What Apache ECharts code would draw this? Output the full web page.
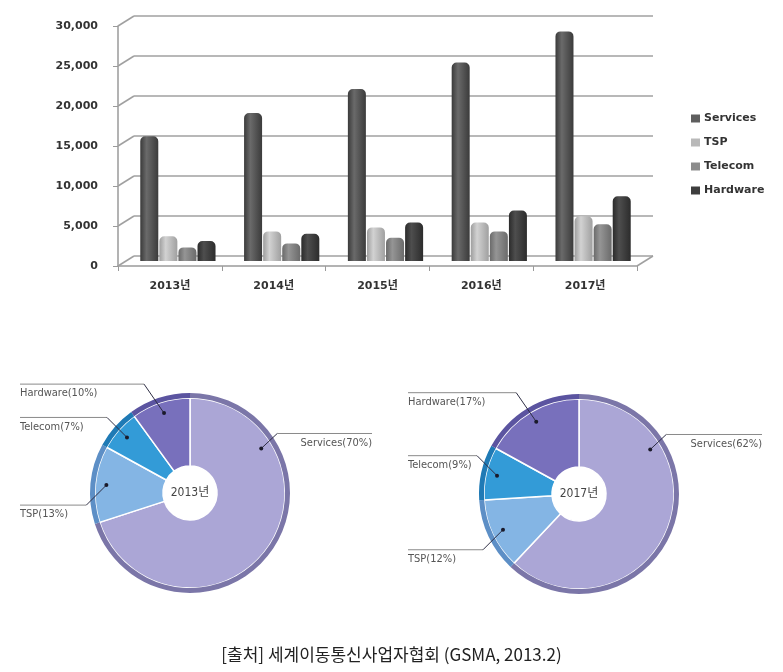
<!DOCTYPE html>
<html><head><meta charset="utf-8">
<script src="https://cdn.jsdelivr.net/npm/echarts@6/dist/echarts.min.js"></script>
<style>html,body{margin:0;padding:0;background:#fff}#c{width:783px;height:672px}</style>
</head><body><div id="c"></div><script>
// ---- data ----
const categories = ['2013년', '2014년', '2015년', '2016년', '2017년'];
const seriesNames = ['Services', 'TSP', 'Telecom', 'Hardware'];
const services = [15600, 18500, 21500, 24800, 28700];
const tsp = [3100, 3700, 4200, 4800, 5600];
const telecom = [1700, 2200, 2900, 3700, 4600];
const hardware = [2500, 3400, 4800, 6300, 8100];
const yMin = 0, yMax = 30000, yStep = 5000;
const yTicks = [0, 5000, 10000, 15000, 20000, 25000, 30000];
const pieNames = ['Services', 'TSP', 'Telecom', 'Hardware'];
const share2013 = [70, 13, 7, 10];
const share2017 = [62, 12, 9, 17];
const pieYears = ['2013년', '2017년'];
const sourceText = '[출처] 세계이동통신사업자협회 (GSMA, 2013.2)';

// ---- layout / style ----
const BAR_STOPS = [
  ['#3a3a3a', '#6a6a6a', '#3b3b3b'],
  ['#9e9e9e', '#d2d2d2', '#a0a0a0'],
  ['#6a6a6a', '#959595', '#6b6b6b'],
  ['#2b2b2b', '#4e4e4e', '#2c2c2c']
];
const LEGEND_COLORS = ['#5e5e5e', '#b9b9b9', '#8c8c8c', '#3e3e3e'];
const PIE_COLORS = ['#aba6d6', '#84b5e4', '#339bd7', '#7870bc'];
const RIM_COLORS = ['#7b76a8', '#5d8fc6', '#1f7ab5', '#5b54a0'];
const PIE_CENTERS = [[190, 493], [579, 494]];
const PIE_R = 100, RIM_IN = 95, HOLE = 27;
const LABEL_EDGES = [[20, 372], [408, 762]];
const DOT_R = 84;
const LABEL_BEND = [[16, -15], [-20, 20], [-20, -20], [-20, -29]];
const SERVICES_LABEL_ANGLE = 58;
const GRID_W = 519, GRID_H = 240;
const FRONT = [118, 26], BACK = [134, 16], MID = [126, 21];
const PIE_FONT = "'Liberation Sans Narrow', 'DejaVu Sans Condensed', 'Noto Sans CJK KR', sans-serif";
const AXIS_FONT = "'DejaVu Sans', 'Noto Sans CJK KR', sans-serif";
const GRID_COLOR = '#a0a0a0';

function grad(stops) {
  return { type: 'linear', x: 0, y: 0, x2: 1, y2: 0,
    colorStops: [{ offset: 0, color: stops[0] }, { offset: 0.35, color: stops[1] }, { offset: 1, color: stops[2] }] };
}

function labelGeom(pieIdx, values, i) {
  const total = values.reduce((a, b) => a + b, 0);
  let cum = 0;
  for (let k = 0; k < i; k++) cum += values[k];
  let ang = 360 * (cum + values[i] / 2) / total;
  if (i === 0) ang = SERVICES_LABEL_ANGLE;
  const rad = ang * Math.PI / 180;
  const c = PIE_CENTERS[pieIdx];
  const dot = [c[0] + DOT_R * Math.sin(rad), c[1] - DOT_R * Math.cos(rad)];
  const bend = LABEL_BEND[i];
  const elbow = [dot[0] + bend[0], dot[1] + bend[1]];
  const side = bend[0] > 0 ? 1 : -1;
  const end = [side > 0 ? LABEL_EDGES[pieIdx][1] : LABEL_EDGES[pieIdx][0], elbow[1]];
  return { dot, elbow, end, side };
}

const chart = echarts.init(document.getElementById('c'), null, { renderer: 'canvas' });

const barData = [services, tsp, telecom, hardware];
const barSeries = seriesNames.map((n, i) => ({
  name: n, type: 'bar', xAxisIndex: 2, yAxisIndex: 2,
  data: barData[i], barWidth: 18, barGap: '6%',
  itemStyle: { color: grad(BAR_STOPS[i]), borderRadius: [5, 5, 0, 0] },
  z: 3
}));

const pieData = [share2013, share2017];
const pieSeries = [];
pieData.forEach((vals, p) => {
  pieSeries.push({
    type: 'pie', center: PIE_CENTERS[p], radius: [HOLE, RIM_IN],
    startAngle: 90, clockwise: true, avoidLabelOverlap: false, minShowLabelAngle: 0,
    silent: true,
    data: pieNames.map((n, i) => ({ name: n, value: vals[i], itemStyle: { color: PIE_COLORS[i] } })),
    itemStyle: { borderColor: '#ffffff', borderWidth: 1.5 },
    label: { show: true, position: 'outside', formatter: '{b}({c}%)',
      fontFamily: PIE_FONT, fontSize: 11, color: '#555' },
    labelLine: { show: false },
    labelLayout: (params) => {
      const g = labelGeom(p, vals, params.dataIndex);
      return { x: g.end[0], y: g.elbow[1] + 4, align: g.side > 0 ? 'right' : 'left', verticalAlign: 'top' };
    },
    z: 2
  });
  pieSeries.push({
    type: 'pie', center: PIE_CENTERS[p], radius: [RIM_IN, PIE_R],
    startAngle: 90, clockwise: true, avoidLabelOverlap: false, minShowLabelAngle: 0,
    silent: true,
    data: pieNames.map((n, i) => ({ name: n, value: vals[i], itemStyle: { color: RIM_COLORS[i] } })),
    label: { show: false },
    labelLine: { show: false },
    z: 2
  });
});

const gridBox = (pos) => ({ left: pos[0], top: pos[1], width: GRID_W, height: GRID_H, containLabel: false });

const option = {
  animation: false,
  backgroundColor: '#ffffff',
  title: [{
    text: sourceText, left: 'center', top: 641,
    textStyle: { fontFamily: "'Noto Sans CJK KR', sans-serif", fontSize: 17, fontWeight: 'normal', color: '#222' }
  }],
  legend: {
    orient: 'vertical', left: 691, top: 113, padding: 0,
    itemWidth: 9, itemHeight: 8, itemGap: 13, icon: 'rect',
    textStyle: { fontFamily: AXIS_FONT, fontWeight: 'bold', fontSize: 11, color: '#333', padding: [0, 0, 0, -1] },
    data: seriesNames.map((n, i) => ({ name: n, itemStyle: { color: LEGEND_COLORS[i] } }))
  },
  grid: [gridBox(FRONT), gridBox(BACK), gridBox(MID)],
  xAxis: [
    { gridIndex: 0, type: 'category', data: categories,
      axisLine: { show: true, lineStyle: { color: '#9a9a9a', width: 1.5 } },
      axisTick: { show: true, length: 5, lineStyle: { color: '#9a9a9a' } },
      axisLabel: { margin: 15, fontFamily: AXIS_FONT, fontWeight: 'bold', fontSize: 11, color: '#333' },
      splitLine: { show: false } },
    { gridIndex: 1, type: 'category', data: categories, show: false },
    { gridIndex: 2, type: 'category', data: categories, show: false }
  ],
  yAxis: [
    { gridIndex: 0, type: 'value', min: yMin, max: yMax, interval: yStep,
      axisLine: { show: true, lineStyle: { color: '#9a9a9a', width: 1.5 } },
      axisTick: { show: true, length: 5, lineStyle: { color: '#9a9a9a' } },
      axisLabel: { margin: 20, fontFamily: AXIS_FONT, fontWeight: 'bold', fontSize: 11, color: '#333',
        formatter: v => v.toLocaleString('en-US') },
      splitLine: { show: false } },
    { gridIndex: 1, type: 'value', min: yMin, max: yMax, interval: yStep,
      axisLine: { show: false }, axisTick: { show: false }, axisLabel: { show: false },
      splitLine: { show: true, lineStyle: { color: GRID_COLOR, width: 1.5 } } },
    { gridIndex: 2, type: 'value', min: yMin, max: yMax, interval: yStep, show: false,
      splitLine: { show: false } }
  ],
  series: barSeries.concat(pieSeries)
};
chart.setOption(option);

// ---- annotation graphics: pie centre text, label leader lines + dots, 3D wall connectors ----
const graphics = [];
pieYears.forEach((t, p) => {
  graphics.push({
    type: 'text', x: PIE_CENTERS[p][0], y: PIE_CENTERS[p][1], zlevel: 1,
    style: { text: t, fill: '#444', font: "12px " + PIE_FONT, textAlign: 'center', textVerticalAlign: 'middle' }
  });
  pieNames.forEach((n, i) => {
    const g = labelGeom(p, pieData[p], i);
    graphics.push({
      type: 'polyline', zlevel: 1, silent: true,
      shape: { points: [g.elbow, g.end] },
      style: { stroke: '#8a8a8a', lineWidth: 1, fill: null }
    });
    graphics.push({
      type: 'polyline', zlevel: 1, silent: true,
      shape: { points: [g.dot, g.elbow] },
      style: { stroke: '#2e2e44', lineWidth: 1, fill: null }
    });
    graphics.push({
      type: 'circle', zlevel: 1, silent: true,
      shape: { cx: g.dot[0], cy: g.dot[1], r: 2 },
      style: { fill: '#1a1a2a' }
    });
  });
});
yTicks.forEach(v => {
  const yf = chart.convertToPixel({ yAxisIndex: 0 }, v);
  const yb = chart.convertToPixel({ yAxisIndex: 1 }, v);
  graphics.push({
    type: 'line', z: 1, silent: true,
    shape: { x1: FRONT[0], y1: yf, x2: BACK[0], y2: yb },
    style: { stroke: GRID_COLOR, lineWidth: 1.5 }
  });
});
{
  const yf = chart.convertToPixel({ yAxisIndex: 0 }, yMin);
  const yb = chart.convertToPixel({ yAxisIndex: 1 }, yMin);
  graphics.push({
    type: 'line', z: 1, silent: true,
    shape: { x1: FRONT[0] + GRID_W, y1: yf, x2: BACK[0] + GRID_W, y2: yb },
    style: { stroke: GRID_COLOR, lineWidth: 1.5 }
  });
}
chart.setOption({ graphic: graphics });
</script></body></html>
